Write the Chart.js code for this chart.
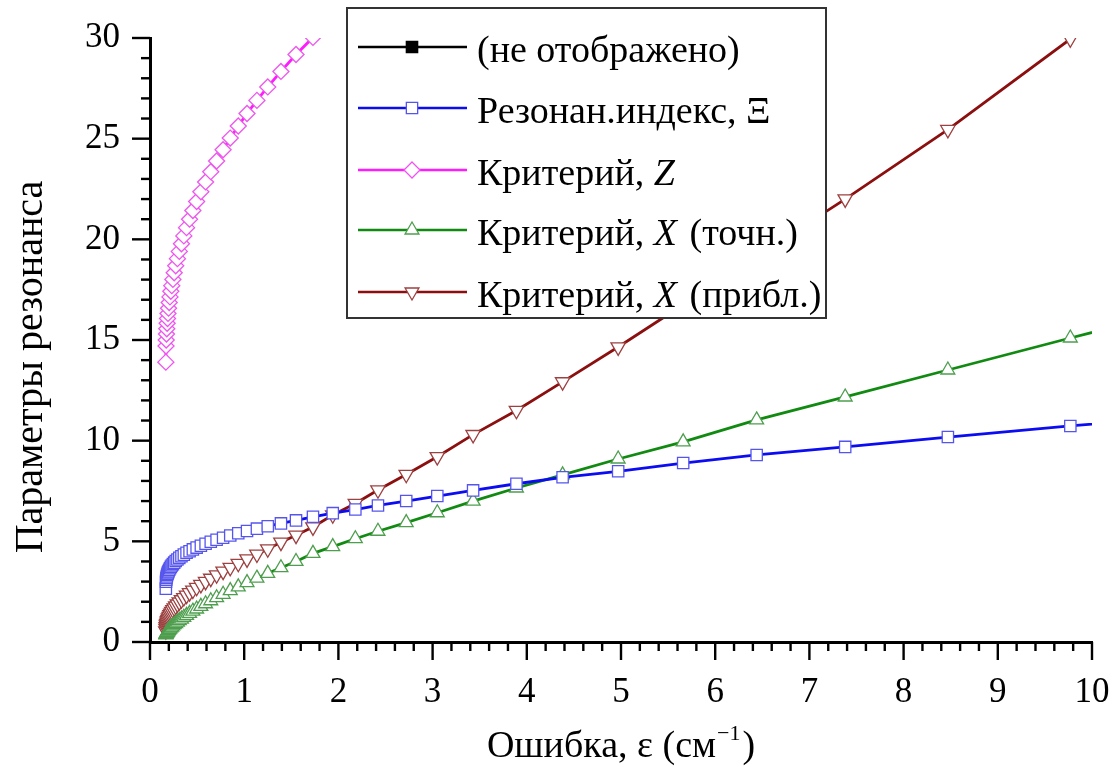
<!DOCTYPE html>
<html>
<head>
<meta charset="utf-8">
<script src="https://cdn.jsdelivr.net/npm/chart.js@4/dist/chart.umd.min.js"></script>
<style>
  html, body { margin: 0; padding: 0; background: #ffffff; }
  #wrap { width: 1116px; height: 767px; }
</style>
</head>
<body>
<div id="wrap"><canvas id="chart" width="1116" height="767"></canvas></div>
<script>
// Error values ε, cm^-1 (shared by all series)
const epsilon = [
  0.168, 0.170, 0.172, 0.175, 0.178, 0.182, 0.186, 0.191, 0.197, 0.204,
  0.212, 0.221, 0.231, 0.243, 0.257, 0.273, 0.291, 0.311, 0.334, 0.359,
  0.388, 0.420, 0.455, 0.495, 0.540, 0.590, 0.645, 0.707, 0.776, 0.852,
  0.937, 1.030, 1.135, 1.250, 1.390, 1.550, 1.730, 1.940, 2.180, 2.420,
  2.720, 3.050, 3.430, 3.890, 4.380, 4.970, 5.660, 6.440, 7.380, 8.470,
  9.770, 11.200
];

// Resonance index Ξ
const resonanceIndex = [
  2.65, 2.99, 3.09, 3.18, 3.25, 3.33, 3.39, 3.46, 3.52, 3.59,
  3.66, 3.73, 3.80, 3.87, 3.94, 4.02, 4.10, 4.18, 4.26, 4.34,
  4.43, 4.51, 4.60, 4.69, 4.78, 4.88, 4.98, 5.08, 5.18, 5.29,
  5.40, 5.51, 5.63, 5.75, 5.89, 6.04, 6.22, 6.40, 6.58, 6.78,
  7.00, 7.25, 7.53, 7.86, 8.18, 8.48, 8.89, 9.29, 9.69, 10.18,
  10.73, 11.30
];

// Criterion Z (leaves the plotted range above 30)
const criterionZ = [
  13.90, 14.70, 15.00, 15.30, 15.56, 15.83, 16.07, 16.32, 16.58, 16.86,
  17.14, 17.42, 17.70, 18.01, 18.34, 18.69, 19.04, 19.40, 19.78, 20.17,
  20.58, 21.00, 21.43, 21.88, 22.36, 22.85, 23.36, 23.89, 24.45, 25.03,
  25.63, 26.25, 26.90, 27.57, 28.34, 29.18, 30.03, 30.98
];

// Criterion X, exact
const criterionXExact = [
  0.35, 0.38, 0.40, 0.43, 0.46, 0.48, 0.51, 0.54, 0.58, 0.61,
  0.65, 0.70, 0.74, 0.80, 0.86, 0.92, 0.99, 1.06, 1.14, 1.23,
  1.32, 1.42, 1.53, 1.64, 1.77, 1.90, 2.05, 2.20, 2.37, 2.55,
  2.74, 2.95, 3.17, 3.41, 3.69, 4.00, 4.40, 4.74, 5.13, 5.50,
  5.93, 6.42, 7.00, 7.65, 8.30, 9.09, 9.94, 11.03, 12.17, 13.51,
  15.10, 16.80
];

// Criterion X, approximate
const criterionXApprox = [
  0.55, 0.67, 0.76, 0.84, 0.91, 0.98, 1.05, 1.12, 1.19, 1.27,
  1.35, 1.43, 1.51, 1.60, 1.69, 1.78, 1.88, 1.98, 2.09, 2.20,
  2.32, 2.44, 2.57, 2.71, 2.85, 3.00, 3.16, 3.33, 3.51, 3.70,
  3.90, 4.12, 4.36, 4.62, 4.95, 5.30, 5.71, 6.31, 6.88, 7.55,
  8.32, 9.20, 10.30, 11.50, 12.92, 14.65, 16.75, 19.15, 22.00, 25.45,
  29.95, 34.50
];

const xTickValues = [0, 1, 2, 3, 4, 5, 6, 7, 8, 9, 10];
const yTickValues = [0, 5, 10, 15, 20, 25, 30];

// Legend captions: [text, italic]
const seriesLabels = [
  [['(не отображено)', false]],
  [['Резонан.индекс, Ξ', false]],
  [['Критерий, ', false], ['Z', true]],
  [['Критерий, ', false], ['X', true], [' (точн.)', false]],
  [['Критерий, ', false], ['X', true], [' (прибл.)', false]]
];

const xTitle = ['Ошибка, ε (см', '−1', ')'];
const yTitle = 'Параметры резонанса';

const FONT = '"Liberation Serif", "Times New Roman", serif';

function pairs(values) {
  return values.map((v, i) => ({ x: epsilon[i], y: v }));
}
function joinLabel(parts) { return parts.map(p => p[0]).join(''); }

const styles = [
  { line: '#000000', edge: '#000000', fill: '#000000', shape: 'rect', rot: 0 },
  { line: '#0c0cf2', edge: '#5555ee', fill: '#ffffff', shape: 'rect', rot: 0 },
  { line: '#ff1aff', edge: '#ee55ee', fill: '#ffffff', shape: 'rectRot', rot: 0 },
  { line: '#118a11', edge: '#4e9e4e', fill: '#ffffff', shape: 'triangle', rot: 0 },
  { line: '#8c0f0f', edge: '#9c4040', fill: '#ffffff', shape: 'triangle', rot: 180 }
];
const seriesValues = [[], resonanceIndex, criterionZ, criterionXExact, criterionXApprox];

const datasets = seriesValues.map((vals, i) => ({
  label: joinLabel(seriesLabels[i]),
  data: pairs(vals),
  borderColor: styles[i].line,
  borderWidth: 2.8,
  tension: 0,
  fill: false,
  pointStyle: styles[i].shape,
  rotation: styles[i].rot,
  pointRadius: i === 4 ? 8.3 : 8,
  pointBorderWidth: 1.3,
  pointBorderColor: styles[i].edge,
  pointBackgroundColor: styles[i].fill,
  pointHoverRadius: 8
}));

// marker drawing for legend samples
function marker(ctx, shape, rot, x, y, r, fill, edge) {
  ctx.save();
  ctx.beginPath();
  if (shape === 'rect') {
    const s = Math.SQRT1_2 * r;
    ctx.rect(x - s, y - s, 2 * s, 2 * s);
  } else if (shape === 'rectRot') {
    ctx.moveTo(x, y - r); ctx.lineTo(x + r, y); ctx.lineTo(x, y + r); ctx.lineTo(x - r, y); ctx.closePath();
  } else {
    let a = rot * Math.PI / 180;
    for (let k = 0; k < 3; k++) {
      const px = x + Math.sin(a) * r, py = y - Math.cos(a) * r;
      if (k === 0) ctx.moveTo(px, py); else ctx.lineTo(px, py);
      a += 2 * Math.PI / 3;
    }
    ctx.closePath();
  }
  ctx.fillStyle = fill; ctx.fill();
  ctx.lineWidth = 1.3; ctx.strokeStyle = edge; ctx.stroke();
  ctx.restore();
}

const decorations = {
  id: 'decorations',
  afterDraw(chart) {
    const ctx = chart.ctx;
    const xs = chart.scales.x, ys = chart.scales.y;
    const area = chart.chartArea;
    ctx.save();
    // axis ticks (outside), majors and minors
    ctx.strokeStyle = '#000'; ctx.lineWidth = 2.4;
    for (let v = 0; v <= 30; v++) {
      const py = ys.getPixelForValue(v);
      const len = v % 5 === 0 ? 18 : 9;
      ctx.beginPath(); ctx.moveTo(area.left, py); ctx.lineTo(area.left - len, py); ctx.stroke();
    }
    for (let k = 0; k <= 50; k++) {
      const v = k / 5;
      const px = xs.getPixelForValue(v);
      const len = k % 5 === 0 ? 18 : 9;
      ctx.beginPath(); ctx.moveTo(px, area.bottom); ctx.lineTo(px, area.bottom + len); ctx.stroke();
    }
    // axis titles
    ctx.fillStyle = '#000';
    ctx.textBaseline = 'alphabetic';
    ctx.font = '38px ' + FONT;
    const w0 = ctx.measureText(xTitle[0]).width;
    ctx.font = '22px ' + FONT;
    const w1 = ctx.measureText(xTitle[1]).width;
    ctx.font = '38px ' + FONT;
    const w2 = ctx.measureText(xTitle[2]).width;
    const tx = (area.left + area.right) / 2 - (w0 + w1 + w2 + 3) / 2;
    const ty = 757;
    ctx.textAlign = 'left';
    ctx.fillText(xTitle[0], tx, ty);
    ctx.font = '22px ' + FONT;
    ctx.fillText(xTitle[1], tx + w0 + 1, ty - 17);
    ctx.font = '38px ' + FONT;
    ctx.fillText(xTitle[2], tx + w0 + w1 + 3, ty);

    ctx.save();
    ctx.font = '40px ' + FONT;
    ctx.translate(42, 367);
    ctx.rotate(-Math.PI / 2);
    ctx.textAlign = 'center';
    ctx.fillText(yTitle, 0, 0);
    ctx.restore();

    // legend box
    const box = { l: 347, t: 8, r: 826, b: 318 };
    ctx.fillStyle = '#ffffff';
    ctx.fillRect(box.l, box.t, box.r - box.l, box.b - box.t);
    ctx.strokeStyle = '#333333'; ctx.lineWidth = 2;
    ctx.strokeRect(box.l, box.t, box.r - box.l, box.b - box.t);
    const rows = [47, 108, 170, 230, 292];
    chart.data.datasets.forEach((ds, i) => {
      const ry = rows[i];
      ctx.strokeStyle = styles[i].line; ctx.lineWidth = 2.6;
      ctx.beginPath(); ctx.moveTo(358, ry); ctx.lineTo(467, ry); ctx.stroke();
      marker(ctx, styles[i].shape, styles[i].rot, 412, ry, 8, styles[i].fill, styles[i].edge);
      let x = 477;
      ctx.fillStyle = '#000'; ctx.textAlign = 'left'; ctx.textBaseline = 'alphabetic';
      seriesLabels[i].forEach(([t, it]) => {
        ctx.font = (it ? 'italic ' : '') + '38px ' + FONT;
        ctx.fillText(t, x, ry + 15);
        x += ctx.measureText(t).width + (it ? 3 : 0);
      });
    });
    ctx.restore();
  }
};

new Chart(document.getElementById('chart'), {
  type: 'line',
  data: { datasets },
  options: {
    responsive: false,
    animation: false,
    devicePixelRatio: 1,
    layout: { padding: { top: 38, right: 24, left: 0, bottom: 0 } },
    plugins: { legend: { display: false }, tooltip: { enabled: false }, title: { display: false } },
    scales: {
      x: {
        type: 'linear', min: 0, max: 10,
        afterBuildTicks: s => { s.ticks = xTickValues.map(v => ({ value: v })); },
        afterFit: s => {
          s.height = 125;
          s.paddingLeft = 0; s.paddingRight = 0; s.paddingTop = 0; s.paddingBottom = 0;
        },
        grid: { display: false, drawTicks: false },
        border: { display: true, color: '#000', width: 3 },
        ticks: { color: '#000', font: { family: FONT, size: 35 }, padding: 30, maxRotation: 0, autoSkip: false }
      },
      y: {
        type: 'linear', min: 0, max: 30,
        afterBuildTicks: s => { s.ticks = yTickValues.map(v => ({ value: v })); },
        afterFit: s => {
          s.width = 150;
          s.paddingLeft = 0; s.paddingRight = 0; s.paddingTop = 0; s.paddingBottom = 0;
        },
        grid: { display: false, drawTicks: false },
        border: { display: true, color: '#000', width: 3 },
        ticks: { color: '#000', font: { family: FONT, size: 35 }, padding: 30, autoSkip: false }
      }
    }
  },
  plugins: [decorations]
});
</script>
</body>
</html>
